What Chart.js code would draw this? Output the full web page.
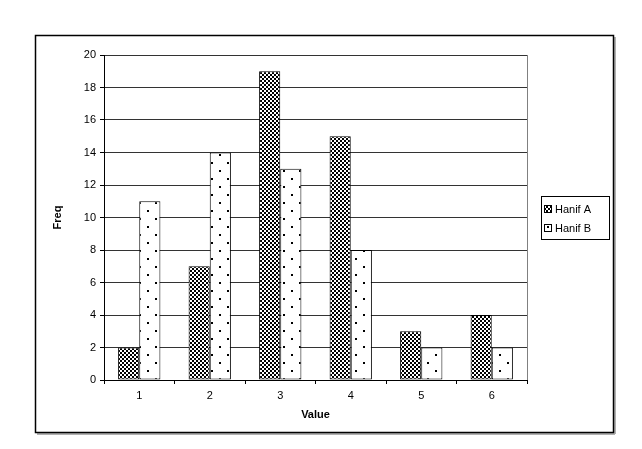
<!DOCTYPE html>
<html>
<head>
<meta charset="utf-8">
<script src="https://cdn.jsdelivr.net/npm/chart.js@4"></script>
<style>
  html, body { margin: 0; padding: 0; background: #fff; }
  canvas { display: block; }
</style>
</head>
<body>
<canvas id="freqChart" width="642" height="449"></canvas>
<script>
const categories = ["1", "2", "3", "4", "5", "6"];
const hanifA = [2, 7, 19, 15, 3, 4];
const hanifB = [11, 14, 13, 8, 2, 2];
const seriesNames = ["Hanif A", "Hanif B"];
const yTicks = [0, 2, 4, 6, 8, 10, 12, 14, 16, 18, 20];

const FONT = "'Liberation Sans', Arial, sans-serif";

function makeChecker() {
    const c = document.createElement("canvas");
    c.width = 4; c.height = 4;
    const g = c.getContext("2d");
    g.fillStyle = "#fff";
    g.fillRect(0, 0, 4, 4);
    g.fillStyle = "#000";
    g.fillRect(0, 0, 2, 2);
    g.fillRect(2, 2, 2, 2);
    return g.createPattern(c, "repeat");
}

function makeDots() {
    const c = document.createElement("canvas");
    c.width = 16; c.height = 16;
    const g = c.getContext("2d");
    g.fillStyle = "#fff";
    g.fillRect(0, 0, 16, 16);
    g.fillStyle = "#000";
    g.fillRect(3, 2, 2, 2);
    g.fillRect(11, 10, 2, 2);
    return g.createPattern(c, "repeat");
}

const checker = makeChecker();
const dots = makeDots();

const framePlugin = {
    id: "frame",
    beforeDraw(chart) {
        const ctx = chart.ctx;
        ctx.save();
        ctx.fillStyle = "#fff";
        ctx.fillRect(0, 0, chart.width, chart.height);
        // outer chart border with a faint shadow
        ctx.fillStyle = "#b0b0b0";
        ctx.fillRect(37, 433, 578, 2);
        ctx.fillRect(614, 37, 2, 397);
        ctx.strokeStyle = "#000";
        ctx.lineWidth = 1.5;
        ctx.strokeRect(35.5, 35.5, 578, 397);
        ctx.restore();
    },
    afterDatasetsDraw(chart) {
        const ctx = chart.ctx;
        const a = chart.chartArea;
        ctx.save();
        ctx.strokeStyle = "#808080";
        ctx.lineWidth = 1;
        ctx.beginPath();
        ctx.moveTo(Math.round(a.right) + 0.5, a.top);
        ctx.lineTo(Math.round(a.right) + 0.5, a.bottom);
        ctx.stroke();

        // axis titles
        ctx.fillStyle = "#000";
        ctx.font = "bold 11px " + FONT;
        ctx.textAlign = "center";
        ctx.textBaseline = "middle";
        ctx.fillText("Value", (a.left + a.right) / 2, 415);
        ctx.save();
        ctx.translate(58, (a.top + a.bottom) / 2);
        ctx.rotate(-Math.PI / 2);
        ctx.fillText("Freq", 0, 0);
        ctx.restore();

        // legend
        const lx = 541, ly = 196, lw = 68, lh = 43;
        ctx.fillStyle = "#fff";
        ctx.fillRect(lx, ly, lw, lh);
        ctx.strokeStyle = "#000";
        ctx.strokeRect(lx + 0.5, ly + 0.5, lw, lh);
        ctx.font = "11px " + FONT;
        ctx.textAlign = "left";
        chart.data.datasets.forEach((ds, i) => {
            const cy = ly + 13 + i * 19;
            ctx.fillStyle = ds.backgroundColor;
            ctx.fillRect(lx + 3, cy - 3, 7, 7);
            ctx.strokeStyle = "#000";
            ctx.strokeRect(lx + 3.5, cy - 3.5, 7, 7);
            ctx.fillStyle = "#000";
            ctx.fillText(ds.label, lx + 14, cy + 1);
        });
        ctx.restore();
    }
};

new Chart(document.getElementById("freqChart"), {
    type: "bar",
    data: {
        labels: categories,
        datasets: [
            {
                label: seriesNames[0],
                data: hanifA,
                backgroundColor: checker,
                borderColor: "#000",
                borderWidth: 1,
                borderSkipped: false
            },
            {
                label: seriesNames[1],
                data: hanifB,
                backgroundColor: dots,
                borderColor: "#000",
                borderWidth: 1,
                borderSkipped: false
            }
        ]
    },
    options: {
        responsive: false,
        animation: false,
        events: [],
        categoryPercentage: 0.6,
        barPercentage: 1.0,
        layout: {
            padding: { left: 0, top: 55, right: 115, bottom: 0 }
        },
        plugins: {
            legend: { display: false },
            tooltip: { enabled: false }
        },
        scales: {
            x: {
                afterFit(scale) { scale.height = 69; },
                grid: {
                    offset: true,
                    drawOnChartArea: false,
                    tickLength: 4,
                    color: "#000"
                },
                border: { color: "#000", width: 1 },
                ticks: {
                    color: "#000",
                    font: { family: FONT, size: 11 },
                    padding: 5
                }
            },
            y: {
                min: 0,
                max: 20,
                afterFit(scale) { scale.width = 104; },
                afterBuildTicks(scale) {
                    scale.ticks = yTicks.map(v => ({ value: v }));
                },
                grid: {
                    color: "#333",
                    tickLength: 4,
                    tickColor: "#000"
                },
                border: { color: "#000", width: 1 },
                ticks: {
                    color: "#000",
                    font: { family: FONT, size: 11 },
                    padding: 4
                }
            }
        }
    },
    plugins: [framePlugin]
});
</script>
</body>
</html>
